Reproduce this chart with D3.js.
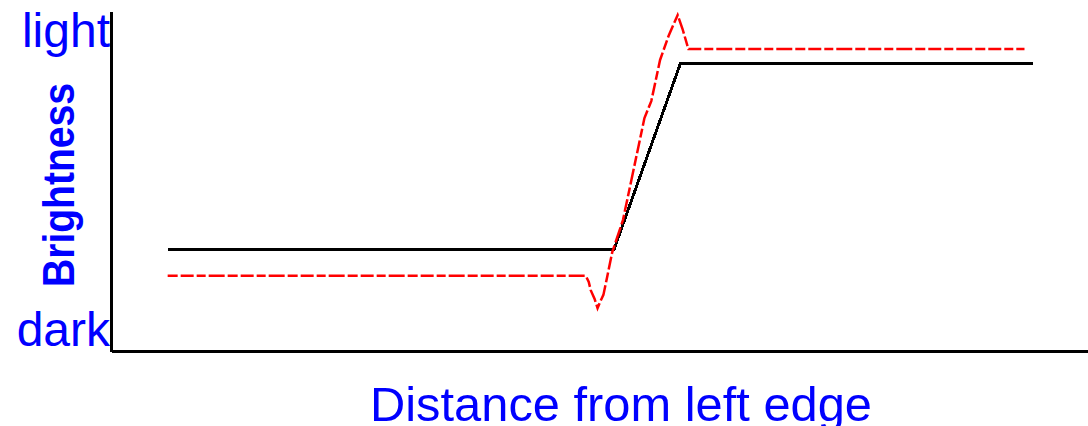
<!DOCTYPE html>
<html>
<head>
<meta charset="utf-8">
<script src="https://cdn.jsdelivr.net/npm/d3@7"></script>
<style>
  html, body { margin: 0; padding: 0; background: #fff; }
  svg { display: block; }
</style>
</head>
<body>
<svg id="chart" width="1088" height="426"></svg>
<script>
// ---- data (distance 0-100 along x, brightness 0-100 along y) ----
const actualX   = [5.8, 51.5, 58.3, 94.4];
const actualY   = [30.0, 30.0, 84.7, 84.7];
const perceivedX = [5.8, 48.6, 48.9, 49.1, 49.5, 49.8, 50.1, 50.4, 50.8, 51.3, 52.4, 54.6, 55.3, 56.2, 57.1, 58.0, 58.5, 59.1, 93.5];
const perceivedY = [22.1, 22.1, 20.3, 17.9, 15.3, 12.6, 14.7, 16.5, 22.0, 29.0, 38.5, 68.5, 73.5, 85.6, 92.9, 98.8, 94.7, 88.8, 88.8];
const yTickValues = [6, 94.2];
const yTickLabels = ["dark", "light"];
const xTitle = "Distance from left edge";
const yTitle = "Brightness";

const svg = d3.select("#chart");
const margin = { left: 111, top: 11, right: 0, bottom: 75 };
const W = 1088, H = 426;

const x = d3.scaleLinear().domain([0, 100]).range([margin.left, W - margin.right]);
const y = d3.scaleLinear().domain([0, 100]).range([H - margin.bottom, margin.top]);

// axes
const yAxis = d3.axisLeft(y)
  .tickValues(yTickValues)
  .tickFormat((d, i) => yTickLabels[i])
  .tickSize(0).tickSizeOuter(0).tickPadding(1);
const gy = svg.append("g").attr("transform", `translate(${margin.left},0)`).call(yAxis);
gy.select(".domain").attr("stroke", "#000").attr("stroke-width", 3).attr("shape-rendering", "crispEdges");
gy.selectAll("text")
  .attr("fill", "#0000ff")
  .style("font-family", "'Liberation Sans', Arial, sans-serif")
  .style("font-size", "48px");

const xAxis = d3.axisBottom(x).tickValues([]).tickSizeOuter(0);
const gx = svg.append("g").attr("transform", `translate(0,${H - margin.bottom})`).call(xAxis);
gx.select(".domain").attr("stroke", "#000").attr("stroke-width", 3).attr("shape-rendering", "crispEdges");

// titles
svg.append("text")
  .attr("x", 621).attr("y", 421)
  .attr("text-anchor", "middle")
  .attr("fill", "#0000ff")
  .attr("textLength", 502)
  .attr("lengthAdjust", "spacingAndGlyphs")
  .style("font-family", "'Liberation Sans', Arial, sans-serif")
  .style("font-size", "48px")
  .text(xTitle);

svg.append("text")
  .attr("transform", "translate(74,185) rotate(-90)")
  .attr("text-anchor", "middle")
  .attr("fill", "#0000ff")
  .attr("textLength", 204)
  .attr("lengthAdjust", "spacingAndGlyphs")
  .style("font-family", "'Liberation Sans', Arial, sans-serif")
  .style("font-size", "45px")
  .style("font-weight", "bold")
  .text(yTitle);

// lines
const line = d3.line().x(d => x(d[0])).y(d => y(d[1]));

svg.append("path")
  .datum(actualX.map((v, i) => [v, actualY[i]]))
  .attr("fill", "none")
  .attr("stroke", "#000")
  .attr("stroke-width", 3)
  .attr("shape-rendering", "crispEdges")
  .attr("d", line);

svg.append("path")
  .datum(perceivedX.map((v, i) => [v, perceivedY[i]]))
  .attr("fill", "none")
  .attr("stroke", "#ff0000")
  .attr("stroke-width", 2.5)
  .attr("stroke-dasharray", "10,3,13,3,9,3,16,3")
  .attr("d", line);
</script>
</body>
</html>
